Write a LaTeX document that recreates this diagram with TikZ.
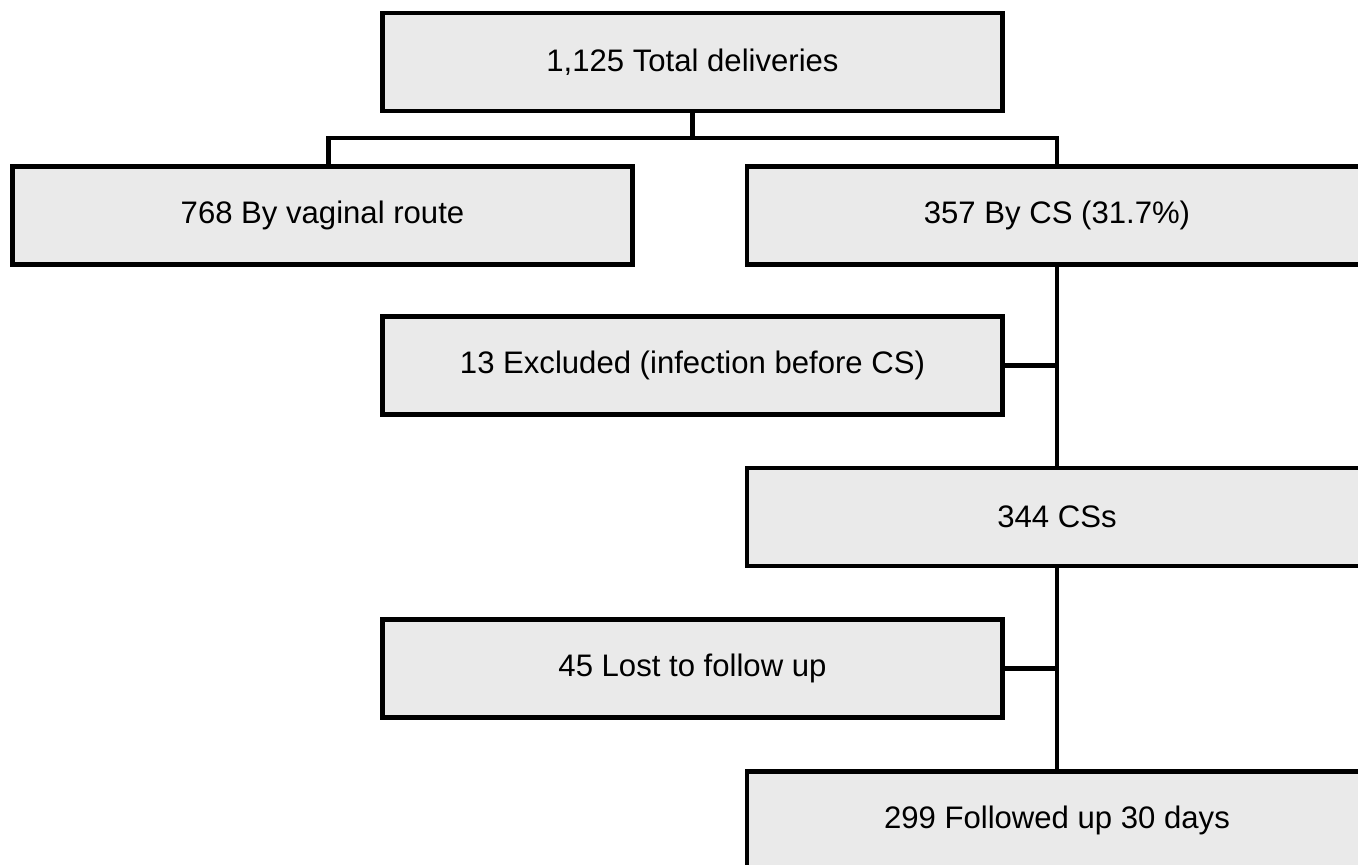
\documentclass[tikz,border=0pt]{standalone}
\usepackage{fontspec}
\setmainfont{Liberation Sans}
\usepackage[usenames,dvipsnames]{xcolor}
\usepackage{tikz}

\definecolor{boxgray}{HTML}{EAEAEA}

\begin{document}
\begin{tikzpicture}[box/.style={draw, line width=2.3pt, fill=boxgray, minimum width=12.4cm, minimum height=1.96cm, font=\fontsize{17.7}{21}\selectfont}, link/.style={line width=2.3pt}]

% page size
\useasboundingbox (0,0) rectangle (27.16,-17.3);

% boxes
\node[box] (total) at (13.85,-1.24) {1,125 Total deliveries};
\node[box] (vaginal) at (6.45,-4.31) {768 By vaginal route};
\node[box] (cs) at (21.14,-4.31) {357 By CS (31.7\%)};
\node[box] (excluded) at (13.85,-7.31) {13 Excluded (infection before CS)};
\node[box] (css) at (21.14,-10.34) {344 CSs};
\node[box] (lost) at (13.85,-13.37) {45 Lost to follow up};
\node[box] (followed) at (21.14,-16.41) {299 Followed up 30 days};

% lines
\coordinate (split) at ([yshift=-0.5cm] total.south);
\draw[link] (total.south) -- (split);
\draw[link] (split) -| ([xshift=0.12cm] vaginal.north);
\draw[link] (split) -| (cs.north);
\draw[link] (cs.south) -- (css.north);
\draw[link] (excluded.east) -- (excluded.east -| cs.south);
\draw[link] (css.south) -- (followed.north);
\draw[link] (lost.east) -- (lost.east -| css.south);

\end{tikzpicture}
\end{document}
